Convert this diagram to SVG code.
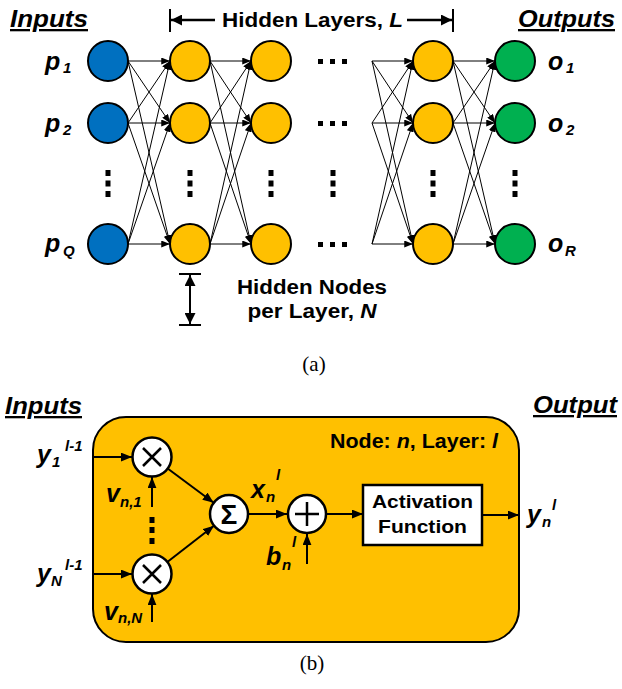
<svg xmlns="http://www.w3.org/2000/svg" width="622" height="689" viewBox="0 0 622 689">
<defs>
<style>
.t{font-family:"Liberation Sans",Arial,sans-serif;font-weight:bold;fill:#000}
.i{font-style:italic}
.hd{font-size:23px;font-style:italic;text-decoration:underline}
.lb{font-size:25px;font-style:italic}
.sb{font-size:15px;font-style:italic}
.cap{font-family:"Liberation Serif","Times New Roman",serif;font-size:21px;fill:#000}
.nd{stroke:#000;stroke-width:2}
.inp{fill:#0070C0}
.hid{fill:#FFC000}
.out{fill:#00B050}
.cn{stroke:#000;stroke-width:1;fill:none;marker-end:url(#a1)}
.cb{stroke:#000;stroke-width:2;fill:none;marker-end:url(#a2)}
.op{fill:#fff;stroke:#000;stroke-width:2.5}
.sym{stroke:#000;stroke-width:2.5;fill:none}
.dot{fill:#000}
</style>
<marker id="a1" viewBox="0 0 10 8" refX="10" refY="4" markerWidth="9" markerHeight="7" orient="auto" markerUnits="userSpaceOnUse"><path d="M0,0L10,4L0,8z"/></marker>
<marker id="a2" viewBox="0 0 10 8" refX="10" refY="4" markerWidth="11" markerHeight="9" orient="auto" markerUnits="userSpaceOnUse"><path d="M0,0L10,4L0,8z"/></marker>
<marker id="a3" viewBox="0 0 10 10" refX="10" refY="5" markerWidth="12" markerHeight="11" orient="auto-start-reverse" markerUnits="userSpaceOnUse"><path d="M0,0L10,5L0,10z"/></marker>
</defs>

<!-- (a) headers -->
<text class="t hd" x="10" y="27" textLength="78" lengthAdjust="spacingAndGlyphs">Inputs</text>
<text class="t hd" x="518" y="27" textLength="97" lengthAdjust="spacingAndGlyphs">Outputs</text>
<g id="hidden-layers-label">
<line x1="170" y1="9" x2="170" y2="32" stroke="#000" stroke-width="2"/>
<line x1="215" y1="20" x2="171" y2="20" stroke="#000" stroke-width="2.5" marker-end="url(#a3)"/>
<text class="t" x="222" y="27" font-size="21" textLength="181" lengthAdjust="spacingAndGlyphs">Hidden Layers, <tspan class="i">L</tspan></text>
<line x1="407" y1="20" x2="452" y2="20" stroke="#000" stroke-width="2.5" marker-end="url(#a3)"/>
<line x1="453" y1="9" x2="453" y2="32" stroke="#000" stroke-width="2"/>
</g>

<!-- connectors (a) -->
<g id="connectors-a">
<path class="cn" d="M128,61L170,61"/><path class="cn" d="M128,61L170,123"/><path class="cn" d="M128,61L170,244"/>
<path class="cn" d="M128,123L170,61"/><path class="cn" d="M128,123L170,123"/><path class="cn" d="M128,123L170,244"/>
<path class="cn" d="M128,244L170,61"/><path class="cn" d="M128,244L170,123"/><path class="cn" d="M128,244L170,244"/>
<path class="cn" d="M210,61L251,61"/><path class="cn" d="M210,61L251,123"/><path class="cn" d="M210,61L251,244"/>
<path class="cn" d="M210,123L251,61"/><path class="cn" d="M210,123L251,123"/><path class="cn" d="M210,123L251,244"/>
<path class="cn" d="M210,244L251,61"/><path class="cn" d="M210,244L251,123"/><path class="cn" d="M210,244L251,244"/>
<path class="cn" d="M372,61L413,61"/><path class="cn" d="M372,61L413,123"/><path class="cn" d="M372,61L413,244"/>
<path class="cn" d="M372,123L413,61"/><path class="cn" d="M372,123L413,123"/><path class="cn" d="M372,123L413,244"/>
<path class="cn" d="M372,244L413,61"/><path class="cn" d="M372,244L413,123"/><path class="cn" d="M372,244L413,244"/>
<path class="cn" d="M453,61L495,61"/><path class="cn" d="M453,61L495,123"/><path class="cn" d="M453,61L495,244"/>
<path class="cn" d="M453,123L495,61"/><path class="cn" d="M453,123L495,123"/><path class="cn" d="M453,123L495,244"/>
<path class="cn" d="M453,244L495,61"/><path class="cn" d="M453,244L495,123"/><path class="cn" d="M453,244L495,244"/>
</g>

<!-- nodes (a) -->
<g id="input-nodes">
<circle class="nd inp" cx="108" cy="61" r="20"/>
<circle class="nd inp" cx="108" cy="123" r="20"/>
<circle class="nd inp" cx="108" cy="244" r="20"/>
</g>
<g id="hidden-layer-1">
<circle class="nd hid" cx="190" cy="61" r="20"/>
<circle class="nd hid" cx="190" cy="123" r="20"/>
<circle class="nd hid" cx="190" cy="244" r="20"/>
</g>
<g id="hidden-layer-2">
<circle class="nd hid" cx="271" cy="61" r="20"/>
<circle class="nd hid" cx="271" cy="123" r="20"/>
<circle class="nd hid" cx="271" cy="244" r="20"/>
</g>
<g id="hidden-layer-L">
<circle class="nd hid" cx="433" cy="61" r="20"/>
<circle class="nd hid" cx="433" cy="123" r="20"/>
<circle class="nd hid" cx="433" cy="244" r="20"/>
</g>
<g id="output-nodes">
<circle class="nd out" cx="515" cy="61" r="20"/>
<circle class="nd out" cx="515" cy="123" r="20"/>
<circle class="nd out" cx="515" cy="244" r="20"/>
</g>

<!-- ellipses -->
<g id="ellipses">
<rect class="dot" x="318" y="59" width="5" height="5"/><rect class="dot" x="330" y="59" width="5" height="5"/><rect class="dot" x="342" y="59" width="5" height="5"/>
<rect class="dot" x="318" y="121" width="5" height="5"/><rect class="dot" x="330" y="121" width="5" height="5"/><rect class="dot" x="342" y="121" width="5" height="5"/>
<rect class="dot" x="318" y="242" width="5" height="5"/><rect class="dot" x="330" y="242" width="5" height="5"/><rect class="dot" x="342" y="242" width="5" height="5"/>
<g id="vdots">
<rect class="dot" x="105.5" y="170" width="5" height="6"/><rect class="dot" x="105.5" y="180.5" width="5" height="6"/><rect class="dot" x="105.5" y="191" width="5" height="6"/>
<rect class="dot" x="187.5" y="170" width="5" height="6"/><rect class="dot" x="187.5" y="180.5" width="5" height="6"/><rect class="dot" x="187.5" y="191" width="5" height="6"/>
<rect class="dot" x="268.5" y="170" width="5" height="6"/><rect class="dot" x="268.5" y="180.5" width="5" height="6"/><rect class="dot" x="268.5" y="191" width="5" height="6"/>
<rect class="dot" x="330.5" y="170" width="5" height="6"/><rect class="dot" x="330.5" y="180.5" width="5" height="6"/><rect class="dot" x="330.5" y="191" width="5" height="6"/>
<rect class="dot" x="430.5" y="170" width="5" height="6"/><rect class="dot" x="430.5" y="180.5" width="5" height="6"/><rect class="dot" x="430.5" y="191" width="5" height="6"/>
<rect class="dot" x="512.5" y="170" width="5" height="6"/><rect class="dot" x="512.5" y="180.5" width="5" height="6"/><rect class="dot" x="512.5" y="191" width="5" height="6"/>
</g>
</g>

<!-- labels (a) -->
<g id="labels-a">
<text class="t lb" x="45" y="70">p<tspan class="sb" x="63" y="73">1</tspan></text>
<text class="t lb" x="45" y="132">p<tspan class="sb" x="63" y="135">2</tspan></text>
<text class="t lb" x="45" y="252">p<tspan class="sb" x="63" y="256">Q</tspan></text>
<text class="t lb" x="548" y="70">o<tspan class="sb" x="566" y="73">1</tspan></text>
<text class="t lb" x="548" y="132">o<tspan class="sb" x="566" y="135">2</tspan></text>
<text class="t lb" x="548" y="252">o<tspan class="sb" x="565" y="256">R</tspan></text>
</g>

<g id="nodes-per-layer">
<line x1="179" y1="274" x2="201" y2="274" stroke="#000" stroke-width="2"/>
<line x1="179" y1="325" x2="201" y2="325" stroke="#000" stroke-width="2"/>
<line x1="190" y1="275" x2="190" y2="324" stroke="#000" stroke-width="2" marker-start="url(#a3)" marker-end="url(#a3)"/>
<text class="t" x="312" y="294" font-size="20" text-anchor="middle" textLength="150" lengthAdjust="spacingAndGlyphs">Hidden Nodes</text>
<text class="t" x="312" y="318" font-size="20" text-anchor="middle" textLength="129" lengthAdjust="spacingAndGlyphs">per Layer, <tspan class="i">N</tspan></text>
</g>

<text class="cap" x="314" y="371" text-anchor="middle">(a)</text>

<!-- (b) -->
<text class="t hd" x="5" y="414" textLength="77" lengthAdjust="spacingAndGlyphs">Inputs</text>
<text class="t hd" x="533" y="413" textLength="84" lengthAdjust="spacingAndGlyphs">Output</text>

<g id="node-box">
<rect x="93" y="417" width="426" height="225" rx="33" ry="33" fill="#FFC000" stroke="#000" stroke-width="2"/>
<text class="t" x="330" y="448" font-size="20" textLength="168" lengthAdjust="spacingAndGlyphs">Node: <tspan class="i">n</tspan>, Layer: <tspan class="i">l</tspan></text>
</g>

<g id="connectors-b">
<path class="cb" d="M93,457L132,457"/>
<path class="cb" d="M152,507L152,477"/>
<path class="cb" d="M93,574L132,574"/>
<path class="cb" d="M152,622L152,594"/>
<path class="cb" d="M167.3,468.3L213.7,502.7"/>
<path class="cb" d="M167,562.3L214,525.7"/>
<path class="cb" d="M248,514L287,514"/>
<path class="cb" d="M307,564L307,534"/>
<path class="cb" d="M326,514L363,514"/>
<path class="cb" d="M482,515L519,515"/>
</g>

<g id="mult-1">
<circle class="op" cx="152" cy="457" r="19.5"/>
<path class="sym" d="M143,448L161,466M161,448L143,466"/>
</g>
<g id="mult-N">
<circle class="op" cx="152" cy="574" r="19.5"/>
<path class="sym" d="M143,565L161,583M161,565L143,583"/>
</g>
<g id="mult-dots">
<rect class="dot" x="149.5" y="517" width="5" height="6"/>
<rect class="dot" x="149.5" y="527" width="5" height="6"/>
<rect class="dot" x="149.5" y="538" width="5" height="6"/>
</g>
<g id="sum">
<circle class="op" cx="229" cy="514" r="19"/>
<text class="t" x="229" y="524" font-size="28" text-anchor="middle">Σ</text>
</g>
<g id="bias-add">
<circle class="op" cx="307" cy="514" r="19"/>
<path class="sym" stroke-width="2" d="M295,514L319,514M307,502L307,526"/>
</g>
<g id="activation">
<rect x="363" y="485" width="119" height="60" fill="#fff" stroke="#000" stroke-width="2.5"/>
<text class="t" x="422.5" y="508" font-size="19" text-anchor="middle" textLength="101" lengthAdjust="spacingAndGlyphs">Activation</text>
<text class="t" x="422.5" y="533" font-size="19" text-anchor="middle" textLength="89" lengthAdjust="spacingAndGlyphs">Function</text>
</g>

<g id="labels-b">
<text class="t lb" x="37" y="463">y<tspan class="sb" x="52" y="467">1</tspan><tspan class="sb" x="65" y="451">l-1</tspan></text>
<text class="t lb" x="37" y="582">y<tspan class="sb" x="51" y="586">N</tspan><tspan class="sb" x="65" y="570">l-1</tspan></text>
<text class="t lb" x="106" y="502">v<tspan class="sb" x="120" y="507">n,1</tspan></text>
<text class="t lb" x="104" y="620">v<tspan class="sb" x="118" y="623">n,N</tspan></text>
<text class="t lb" x="251" y="498">x<tspan class="sb" x="266" y="502">n</tspan><tspan class="sb" x="276" y="480">l</tspan></text>
<text class="t lb" x="266" y="565">b<tspan class="sb" x="282" y="570">n</tspan><tspan class="sb" x="292" y="547">l</tspan></text>
<text class="t lb" x="527" y="523">y<tspan class="sb" x="542" y="527">n</tspan><tspan class="sb" x="552" y="510">l</tspan></text>
</g>

<text class="cap" x="312" y="670" text-anchor="middle">(b)</text>
</svg>
